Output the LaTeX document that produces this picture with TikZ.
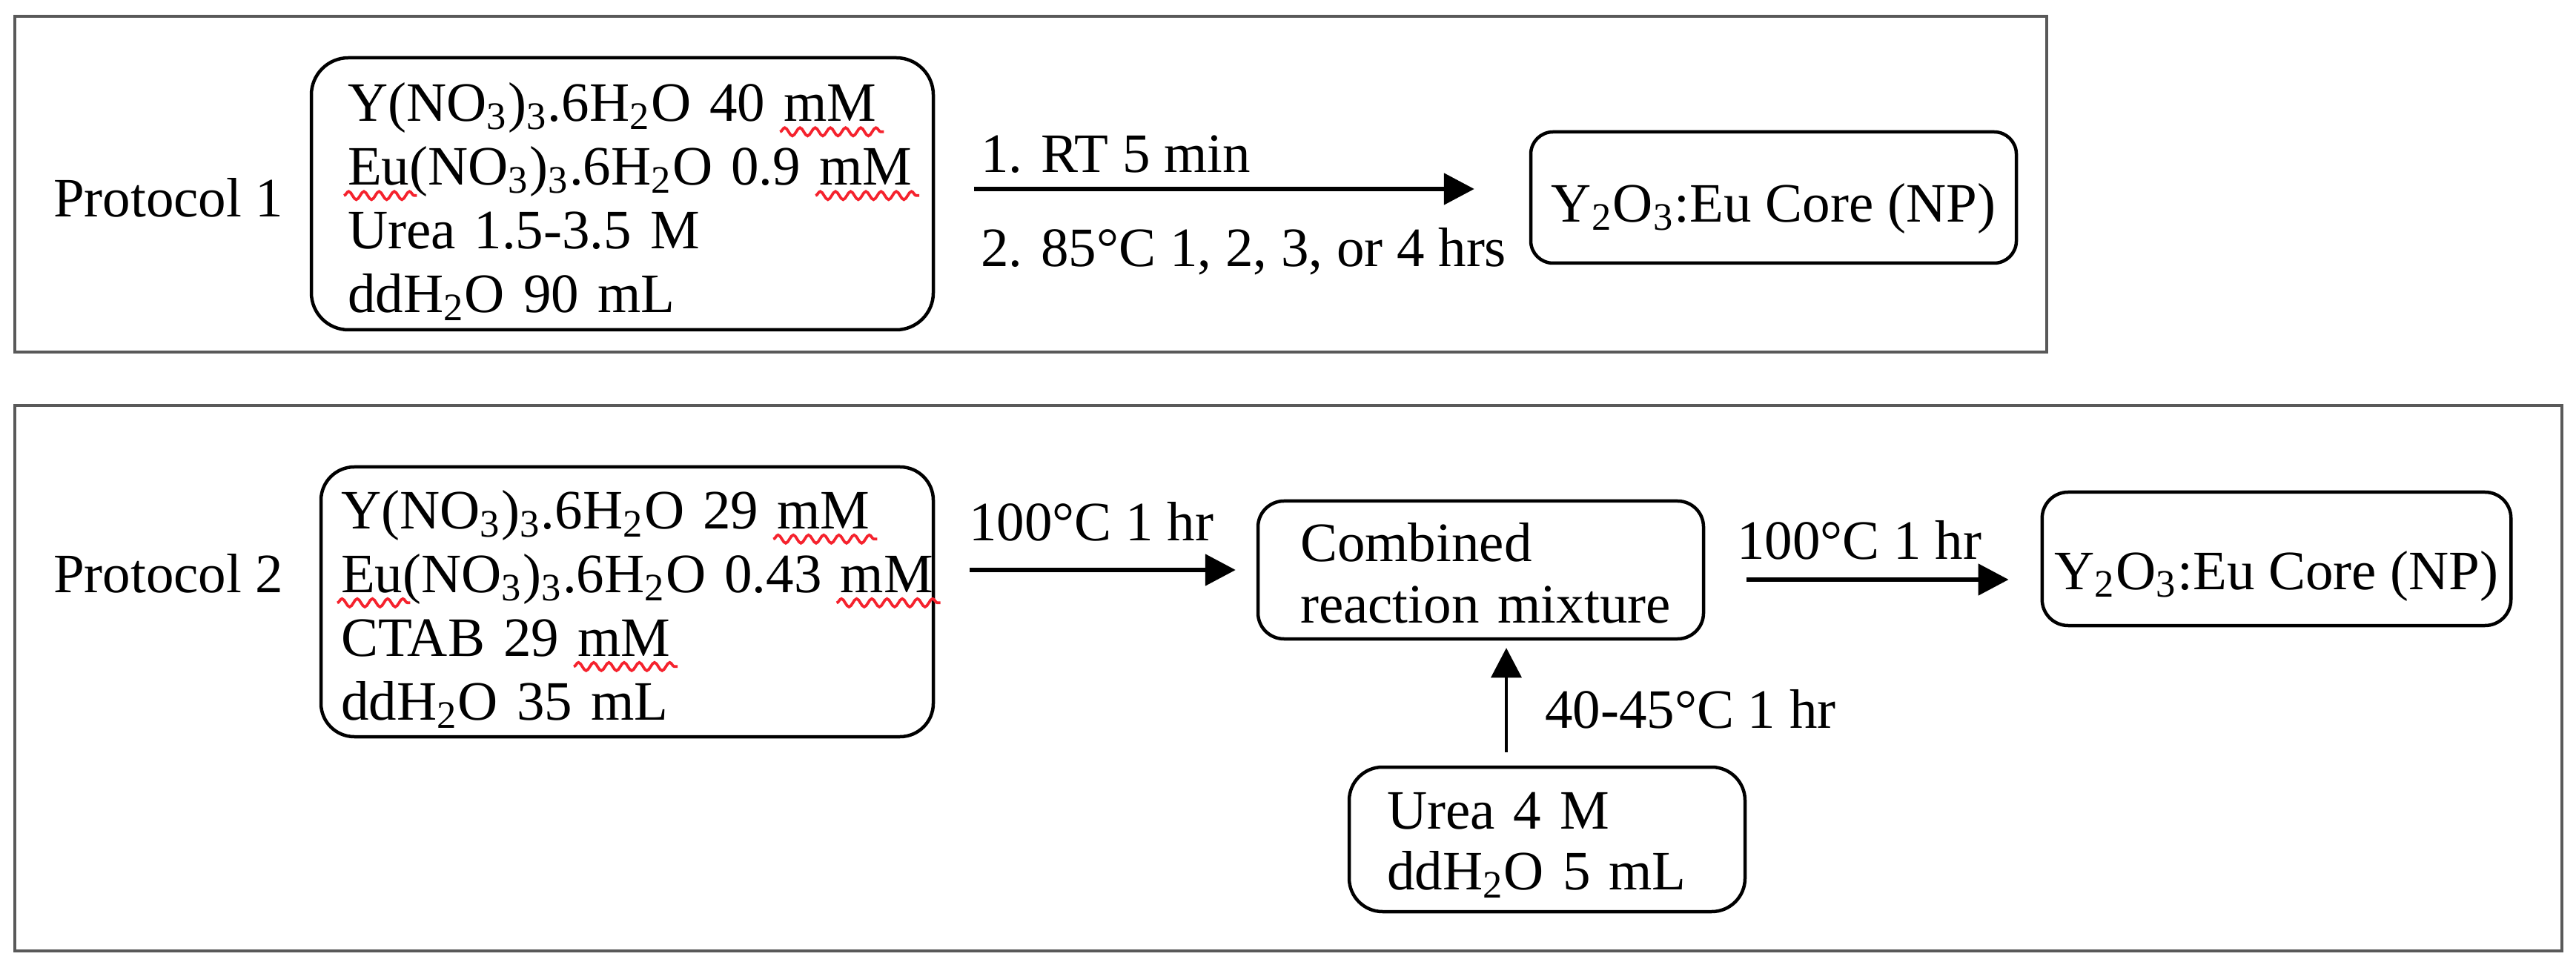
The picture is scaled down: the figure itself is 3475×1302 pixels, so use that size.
\documentclass[tikz,border=0pt]{standalone}
\usepackage{fontspec}
\setmainfont{Liberation Serif}
\usetikzlibrary{arrows.meta,decorations.pathmorphing}
\definecolor{spellred}{HTML}{F5222D}
\newsavebox\sqbox
\newlength\sqlen
\newcommand\sqg[1]{\sbox\sqbox{#1}\setlength\sqlen{\wd\sqbox}\rlap{\tikz[overlay,baseline=0pt,sharp corners]\draw[sharp corners,spellred,line width=0.75pt,decorate,decoration={snake,amplitude=1.1pt,segment length=4.1pt}] (-1pt,-2.8pt) -- (\sqlen+2pt,-2.8pt);}\usebox\sqbox}
\newcommand\sub[1]{\textsubscript{#1}}
\tikzset{
  txt/.style={font=\fontsize{15pt}{17.2pt}\selectfont},
  lbl/.style={txt,anchor=base west,inner sep=0pt},
  frame/.style={draw=black!65,line width=0.65pt,inner sep=0pt},
  box/.style={txt,draw=black,line width=0.9pt,inner ysep=0pt},
  arr/.style={-{Triangle[length=8.2pt,width=8.4pt]},line width=1.05pt},
  arrthin/.style={-{Triangle[length=8pt,width=8.2pt]},line width=0.7pt},
}
\begin{document}
\begin{tikzpicture}[x=0.2pt,y=-0.2pt]
\useasboundingbox (0,0) rectangle (3475,1302);
\fill[white] (0,0) rectangle (3475,1302);
% frames
\node[frame,minimum width=548.2pt,minimum height=90.6pt] (f1) at (1390.5,248.5) {};
\node[frame,minimum width=687.2pt,minimum height=147.2pt] (f2) at (1738,915) {};
% protocol 1
\node[lbl] (p1) at (71,293) {Protocol 1};
\node[box,rounded corners=10pt,minimum width=167.8pt,minimum height=73.4pt,text width=148.2pt,inner xsep=9.8pt,align=left] (b1) at (839.5,261.5)
 {\mbox{\rule{0pt}{14.7pt}Y(NO\sub{3})\sub{3}.6H\sub{2}O 40 \sqg{mM}}\\
  \mbox{\sqg{Eu}(NO\sub{3})\sub{3}.6H\sub{2}O 0.9 \sqg{mM}}\\
  \mbox{Urea 1.5-3.5 M}\\
  \mbox{ddH\sub{2}O 90 mL}};
\node[box,rounded corners=6pt,minimum width=131pt,minimum height=35.4pt,text height=13.4pt,text depth=0pt] (np1) at (2392.5,266.5) {Y\sub{2}O\sub{3}:Eu Core (NP)};
\node[lbl] (t1a) at (1322,233) {1. RT 5 min};
\node[lbl] (t1b) at (1322,360) {2. 85°C 1, 2, 3, or 4 hrs};
\path ([yshift=1.3pt]b1.east) coordinate (a1s);
\draw[arr,shorten <=10.6pt,shorten >=14.8pt] (a1s) -- (a1s -| np1.west);
% protocol 2
\node[lbl] (p2) at (71,800) {Protocol 2};
\node[box,rounded corners=9pt,minimum width=165.2pt,minimum height=72.8pt,text width=154.4pt,inner xsep=5.4pt,align=left] (b2) at (846,812)
 {\mbox{\rule{0pt}{14.3pt}Y(NO\sub{3})\sub{3}.6H\sub{2}O 29 \sqg{mM}}\\
  \mbox{\sqg{Eu}(NO\sub{3})\sub{3}.6H\sub{2}O 0.43 \sqg{mM}}\\
  \mbox{CTAB 29 \sqg{mM}}\\
  \mbox{ddH\sub{2}O 35 mL}};
\node[box,rounded corners=7pt,minimum width=120.2pt,minimum height=37.2pt,text width=97.4pt,inner xsep=11.4pt,align=left,font=\fontsize{15pt}{16.6pt}\selectfont] (comb) at (1997.5,769)
 {\mbox{\rule{0pt}{12.2pt}Combined}\\\mbox{reaction mixture}};
\node[box,rounded corners=9pt,minimum width=106.8pt,minimum height=39pt,text width=86.4pt,inner xsep=10.2pt,align=left,font=\fontsize{15pt}{16.4pt}\selectfont] (urea) at (2087,1132.5)
 {\mbox{\rule{0pt}{13pt}Urea 4 M}\\\mbox{ddH\sub{2}O 5 mL}};
\node[box,rounded corners=7pt,minimum width=124.8pt,minimum height=36pt,text height=16.4pt,text depth=0pt] (np2) at (3071,754) {Y\sub{2}O\sub{3}:Eu Core (NP)};
\node[lbl] (t2a) at (1306,730) {100°C 1 hr};
\node[lbl] (t2b) at (2083,982) {40-45°C 1 hr};
\node[lbl] (t2c) at (2342,755) {100°C 1 hr};
\draw[arr,shorten <=9.4pt,shorten >=5.6pt] (comb.west -| b2.east) -- (comb.west);
\path ([yshift=-2.6pt]comb.east) coordinate (a3s);
\draw[arr,shorten <=11.2pt,shorten >=8.6pt] (a3s) -- (a3s -| np2.west);
\coordinate (upx) at (2032,950);
\draw[arrthin,shorten <=3.6pt,shorten >=2pt] (upx |- urea.north) -- (upx |- comb.south);
\end{tikzpicture}
\end{document}
